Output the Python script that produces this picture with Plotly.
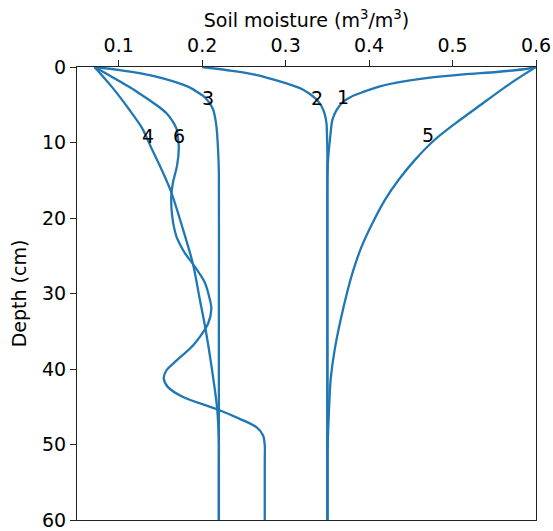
import plotly.graph_objects as go

# Depth (cm) / soil moisture (m3/m3)
d1 = [0, 0.3, 0.66, 0.97, 1.41, 2.07, 2.56, 3.3, 3.96, 4.6, 5.7, 7.0, 9.2, 12, 15, 30, 60]
m1 = [0.600, 0.585, 0.553, 0.513, 0.473, 0.433, 0.413, 0.393, 0.378, 0.369, 0.361, 0.356, 0.3535, 0.351, 0.350, 0.350, 0.350]

d2 = [0, 0.5, 1.0, 1.9, 3.0, 4.1, 5.2, 6.3, 7.5, 8.9, 11, 15, 30, 60]
m2 = [0.200, 0.236, 0.263, 0.293, 0.321, 0.335, 0.343, 0.347, 0.349, 0.3495, 0.350, 0.350, 0.350, 0.350]

d3 = [0, 0.4, 0.8, 1.5, 2.6, 3.3, 4.1, 5.6, 7.8, 10.9, 14, 30, 60]
m3 = [0.071, 0.101, 0.125, 0.153, 0.183, 0.194, 0.204, 0.213, 0.217, 0.219, 0.220, 0.220, 0.220]

d4 = [0, 2.8, 5.7, 8.1, 10.7, 13.5, 16.6, 21.5, 26.1, 30.7, 34.7, 39.5, 45.3, 49.7, 52, 60]
m4 = [0.071, 0.093, 0.113, 0.128, 0.139, 0.151, 0.163, 0.177, 0.189, 0.197, 0.204, 0.211, 0.218, 0.220, 0.220, 0.220]

d5 = [0, 2.2, 5.07, 7.5, 9.7, 12.3, 15.0, 17.6, 20.7, 23.8, 27.3, 32.0, 37.3, 41.3, 45.3, 49.6, 52, 60]
m5 = [0.600, 0.569, 0.533, 0.503, 0.478, 0.455, 0.435, 0.419, 0.404, 0.391, 0.380, 0.369, 0.359, 0.354, 0.352, 0.3505, 0.350, 0.350]

d6 = [0, 1.0, 1.9, 3.0, 4.1, 5.1, 6.1, 7.1, 8.1, 9.4, 10.7, 13.0, 15.3, 17.1, 19.7, 22.4, 24.6, 26.1, 28.5, 30.7, 32.0, 34.0,
      36.9, 38.9, 40.2, 41.3, 42.4, 43.7, 45.3, 46.6, 47.7, 48.8, 50.1, 52, 60]
m6 = [0.071, 0.087, 0.101, 0.118, 0.133, 0.146, 0.157, 0.164, 0.169, 0.171, 0.172, 0.170, 0.165, 0.163, 0.164, 0.169, 0.179, 0.189, 0.203, 0.209, 0.211, 0.207,
      0.189, 0.169, 0.157, 0.154, 0.159, 0.177, 0.217, 0.245, 0.265, 0.273, 0.275, 0.275, 0.275]

label_text = ["1", "2", "3", "4", "5", "6"]
label_x = [0.369, 0.338, 0.207, 0.135, 0.470, 0.172]
label_d = [4.0, 4.1, 4.1, 9.2, 9.0, 9.2]

x_ticks = [0.1, 0.2, 0.3, 0.4, 0.5, 0.6]
y_ticks = [0, 10, 20, 30, 40, 50, 60]

color = "#1f77b4"
font = "DejaVu Sans"

fig = go.Figure()
for d, m in [(d1, m1), (d2, m2), (d3, m3), (d4, m4), (d5, m5), (d6, m6)]:
    fig.add_trace(go.Scatter(x=m, y=d, mode="lines",
                             line=dict(color=color, width=2.3, shape="spline", smoothing=0.8),
                             showlegend=False, hoverinfo="skip"))

for t, x, y in zip(label_text, label_x, label_d):
    fig.add_annotation(x=x, y=y, text=t, showarrow=False,
                       font=dict(family=font, size=19, color="black"))

axis_common = dict(showline=True, linecolor="#222", linewidth=1.2, mirror=True,
                   ticks="outside", ticklen=6, tickwidth=1.2, tickcolor="#222",
                   showgrid=False, zeroline=False, automargin=False,
                   ticklabeloverflow="allow",
                   tickfont=dict(family=font, size=19, color="black"))

fig.update_layout(
    width=553, height=531,
    margin=dict(l=77, r=17, t=67, b=11),
    paper_bgcolor="white", plot_bgcolor="white",
    xaxis=dict(side="top", range=[0.05, 0.6], tickvals=x_ticks,
               ticktext=[f"{v:.1f}" for v in x_ticks],
               title=dict(text="Soil moisture (m<sup>3</sup>/m<sup>3</sup>)",
                          font=dict(family=font, size=19, color="black"), standoff=1),
               **axis_common),
    yaxis=dict(range=[60, 0], tickvals=y_ticks,
               title=dict(text="Depth (cm)", font=dict(family=font, size=19, color="black"), standoff=10),
               **axis_common),
)

fig.write_html("out.html")
